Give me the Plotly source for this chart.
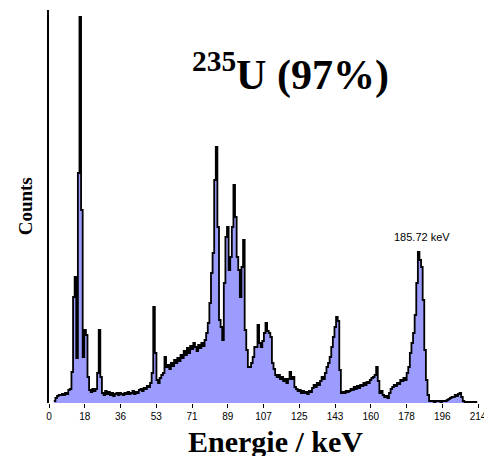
import numpy as np
import plotly.graph_objects as go

# Channel grid of the spectrum (keV)
channel_start_keV = 2.4
channel_width_keV = 0.8

# Counts per channel (arbitrary units)
counts = [
    2, 5, 7, 8, 8, 9, 8, 10, 9, 13,
    14, 31, 106, 126, 45, 230, 386, 193, 46, 73,
    68, 26, 13, 11, 14, 12, 14, 30, 73, 26,
    10, 8, 12, 9, 11, 8, 10, 7, 9, 10,
    8, 10, 9, 8, 10, 9, 11, 9, 10, 12,
    9, 11, 10, 13, 14, 12, 15, 14, 17, 16,
    20, 30, 96, 50, 23, 20, 25, 28, 30, 46,
    36, 38, 34, 40, 37, 43, 40, 45, 42, 48,
    45, 52, 48, 55, 50, 57, 54, 60, 56, 52,
    58, 55, 60, 57, 63, 70, 80, 100, 130, 150,
    223, 256, 176, 83, 76, 63, 120, 166, 176, 133,
    146, 176, 218, 186, 146, 133, 106, 136, 163, 73,
    53, 36, 36, 40, 46, 56, 56, 78, 60, 56,
    62, 70, 80, 72, 70, 66, 40, 34, 28, 26,
    28, 24, 26, 22, 24, 20, 24, 31, 24, 26,
    16, 14, 12, 13, 10, 12, 10, 11, 9, 12,
    11, 15, 18, 16, 20, 18, 22, 26, 24, 30,
    36, 40, 46, 56, 66, 76, 86, 82, 33, 10,
    11, 10, 12, 11, 12, 14, 13, 16, 14, 17,
    15, 18, 17, 20, 18, 21, 20, 23, 25, 26,
    28, 36, 22, 10, 12, 8, 6, 7, 5, 10,
    14, 16, 18, 17, 20, 19, 23, 22, 25, 23,
    30, 36, 50, 60, 70, 88, 120, 151, 143, 136,
    103, 53, 23, 8, 2, 2, 2, 1, 2, 2,
    2, 1, 2, 2, 2, 3, 4, 5, 6, 6,
    8, 7, 9, 10, 6, 2, 1, 1, 1, 1,
    1, 1, 1, 1, 1,
]
energy_keV = channel_start_keV + channel_width_keV * np.arange(len(counts))

# Axis ticks
x_max_keV = 214
tick_values = [x_max_keV * k / 12 for k in range(13)]
tick_labels = ["0", "18", "36", "53", "71", "89", "107", "125", "143", "160", "178", "196", "214"]

title_text = "<b><sup>235</sup>U (97%)</b>"
peak_label = "185.72 keV"
peak_label_pos = (186.3, 166)

fig = go.Figure()
fig.add_trace(go.Scatter(
    x=energy_keV, y=counts, mode="lines", line_shape="hv",
    line=dict(color="black", width=1.8),
    fill="tozeroy", fillcolor="#9c9cff",
    hoverinfo="skip", showlegend=False,
))

fig.update_layout(
    width=484, height=456,
    margin=dict(l=49, r=6, t=10, b=53, autoexpand=False),
    paper_bgcolor="white", plot_bgcolor="white",
    xaxis=dict(
        range=[0, x_max_keV], tickvals=tick_values, ticktext=tick_labels,
        ticks="outside", ticklen=4, tickcolor="black", tickwidth=1,
        showgrid=False, zeroline=False, showline=False, automargin=False,
        ticklabeloverflow="allow",
        tickfont=dict(family="Liberation Sans", size=10, color="black"),
    ),
    yaxis=dict(
        range=[0, 393], showticklabels=False, ticks="",
        showgrid=False, zeroline=False, showline=True, automargin=False,
        linecolor="black", linewidth=1.5,
    ),
    annotations=[
        dict(text=title_text, xref="paper", yref="paper", x=0.562, y=0.842,
             xanchor="center", yanchor="middle", showarrow=False,
             font=dict(family="Liberation Serif", size=42, color="black")),
        dict(text="<b>Counts</b>", xref="paper", yref="paper", x=-0.054, y=0.5,
             xanchor="center", yanchor="middle", textangle=-90, showarrow=False,
             font=dict(family="Liberation Serif", size=19, color="black")),
        dict(text="<b>Energie / keV</b>", xref="paper", yref="paper", x=0.529, y=-0.099,
             xanchor="center", yanchor="middle", showarrow=False,
             font=dict(family="Liberation Serif", size=30, color="black")),
        dict(text=peak_label, xref="x", yref="y", x=peak_label_pos[0], y=peak_label_pos[1],
             xanchor="center", yanchor="middle", showarrow=False,
             font=dict(family="Liberation Sans", size=11, color="black")),
    ],
)

fig.write_html(
    "out.html",
    config={"displayModeBar": False},
    post_script="document.body.style.margin='0';document.body.style.overflow='hidden';",
)
